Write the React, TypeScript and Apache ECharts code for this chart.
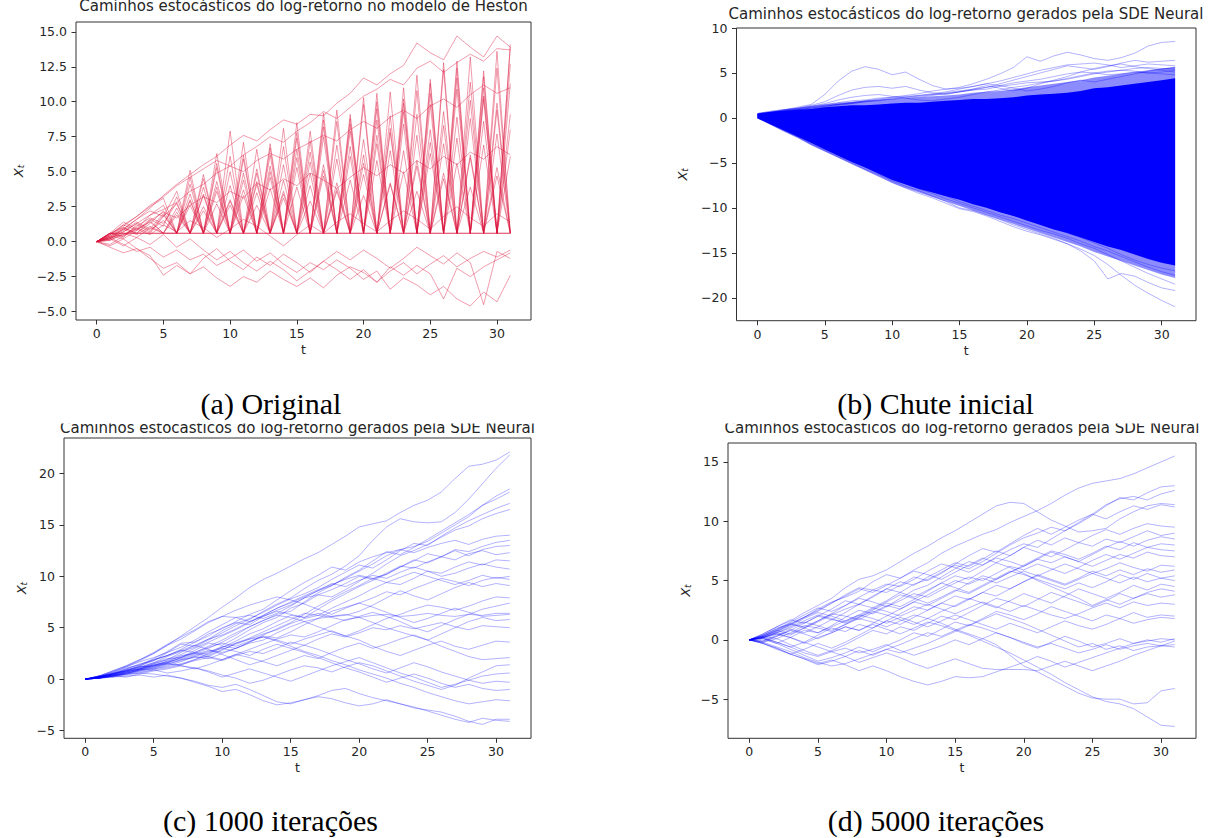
import React, { useEffect, useRef } from "react";
import * as echarts from "echarts";

// ---------- data ----------
const tSteps = [0,1,2,3,4,5,6,7,8,9,10,11,12,13,14,15,16,17,18,19,20,21,22,23,24,25,26,27,28,29,30,31];

const hestonPaths: number[][] = [
  [0,0.5,1.2,0.8,1.6,1.1,3.2,0.6,4.8,0.6,6.1,0.6,5.2,0.6,6.8,0.6,7.9,0.6,8.6,0.6,9.8,0.6,10.7,0.6,11.9,0.6,12.8,0.6,13.2,0.6,12.4,0.6],
  [0,0.3,0.8,1.4,0.9,2.0,0.6,4.1,0.6,5.6,0.6,4.9,0.6,6.7,0.6,7.4,0.6,8.2,0.6,9.1,0.6,8.7,0.6,10.2,0.6,11.6,0.6,10.9,0.6,12.2,0.6,11.3],
  [0,0.6,0.4,1.1,1.7,1.3,2.8,0.6,3.9,0.6,5.0,0.6,4.3,0.6,5.5,0.6,6.4,0.6,5.9,0.6,7.3,0.6,8.1,0.6,7.6,0.6,9.3,0.6,8.8,0.6,9.9,0.6],
  [0,0.2,0.7,1.3,0.8,1.5,0.6,2.9,0.6,3.6,0.6,4.4,0.6,3.8,0.6,5.3,0.6,4.7,0.6,6.1,0.6,7.0,0.6,6.5,0.6,8.0,0.6,7.4,0.6,8.6,0.6,9.1],
  [0,0.6,1.0,0.6,1.3,2.2,0.6,3.4,0.6,2.7,0.6,3.3,0.6,4.6,0.6,3.9,0.6,5.1,0.6,4.4,0.6,5.8,0.6,5.0,0.6,6.3,0.6,5.6,0.6,6.9,0.6,6.1],
  [0,0.4,0.9,1.6,2.2,1.8,3.6,0.6,4.5,0.6,7.9,0.6,6.6,0.6,8.1,0.6,7.2,0.6,9.4,0.6,10.3,0.6,9.0,0.6,10.8,0.6,12.3,0.6,11.4,0.6,13.6,0.6],
  [0,0.1,0.6,0.3,1.0,0.6,2.4,0.6,2.2,0.6,2.9,0.6,3.5,0.6,3.1,0.6,4.0,0.6,3.6,0.6,4.8,0.6,4.2,0.6,5.4,0.6,4.9,0.6,6.0,0.6,5.3,0.6],
  [0,0.6,1.4,0.9,1.9,2.6,0.6,5.1,0.6,6.3,0.6,7.1,0.6,6.2,0.6,7.8,0.6,8.7,0.6,7.9,0.6,9.5,0.6,11.0,0.6,9.8,0.6,11.7,0.6,10.4,0.6,13.9],
  [0,0.3,0.5,0.9,1.4,0.6,1.9,0.6,2.5,0.6,3.0,0.6,2.6,0.6,3.4,0.6,2.9,0.6,3.8,0.6,3.3,0.6,4.1,0.6,3.6,0.6,4.5,0.6,3.9,0.6,4.7,0.6],
  [0,0.2,0.9,0.5,1.1,0.6,2.1,0.6,3.3,0.6,4.0,0.6,4.9,0.6,4.4,0.6,5.7,0.6,6.9,0.6,6.2,0.6,7.8,0.6,9.1,0.6,8.3,0.6,10.1,0.6,9.4,0.6],
  [0,0.4,0.2,0.8,1.5,0.6,0.6,2.6,0.6,3.9,0.6,5.9,0.6,5.4,0.6,6.6,0.6,7.5,0.6,8.4,0.6,10.0,0.6,9.3,0.6,10.6,0.6,12.9,0.6,11.8,0.6,12.7],
  [0,0.6,0.3,1.2,0.7,1.9,0.6,3.0,0.6,4.3,0.6,3.7,0.6,5.0,0.6,6.0,0.6,5.5,0.6,6.8,0.6,7.6,0.6,8.4,0.6,7.1,0.6,8.9,0.6,10.2,0.6,8.0],
  [0,0.1,0.5,1.0,0.6,1.8,2.7,0.6,3.4,0.6,2.6,0.6,4.1,0.6,3.6,0.6,4.9,0.6,4.2,0.6,5.6,0.6,6.5,0.6,5.8,0.6,7.0,0.6,6.2,0.6,7.7,0.6],
  [0,0.5,1.1,1.8,2.5,3.1,0.6,4.6,0.6,5.3,0.6,6.2,0.6,7.0,0.6,8.5,0.6,9.2,0.6,8.8,0.6,10.6,0.6,9.9,0.6,11.3,0.6,12.4,0.6,11.0,0.6,14.1],
  [0,0.3,0.9,1.6,2.4,3.3,4.1,4.8,5.5,6.1,6.9,7.6,7.2,8.0,8.7,8.4,9.1,9.0,9.9,10.6,11.7,11.2,12.0,12.6,14.2,13.5,13.0,14.7,13.9,13.2,14.7,13.9],
  [0,0.5,1.2,1.8,2.6,3.2,4.0,4.6,5.2,5.8,5.4,6.2,6.8,7.5,7.1,7.9,8.5,9.3,8.8,9.6,10.4,10.9,11.6,11.2,12.4,12.9,12.1,12.8,13.4,12.9,13.8,13.7],
  [0,0.2,0.7,1.3,1.9,2.3,2.8,3.6,4.1,4.9,5.4,5.0,5.8,6.3,5.9,6.6,7.1,7.6,7.2,8.0,8.6,8.1,8.9,9.4,8.8,9.7,10.2,9.6,10.5,11.2,10.6,11.0],
  [0,-0.4,-0.8,-0.5,-1.2,-1.9,-1.5,-2.3,-1.8,-2.6,-3.2,-2.5,-2.9,-2.1,-2.7,-3.2,-2.6,-3.3,-2.4,-1.8,-2.2,-2.9,-2.1,-1.5,-2.3,-1.6,-1.0,-1.8,-1.2,-0.7,-1.1,-0.6],
  [0,0.3,-0.2,-0.7,-0.4,-1.1,-0.6,-1.3,-0.9,-1.7,-1.2,-0.6,-1.4,-0.8,-1.6,-2.2,-1.5,-2.0,-1.3,-1.9,-2.7,-2.1,-3.4,-2.6,-3.1,-3.8,-3.2,-4.1,-4.6,-3.6,-4.3,-2.4],
  [0,-0.3,0.2,-0.5,-1.0,-2.4,-1.7,-2.3,-1.2,-0.5,-1.4,-2.0,-1.1,-1.7,-0.9,-1.5,-2.2,-1.4,-0.7,-1.3,-0.6,-1.2,-1.9,-1.2,-0.4,-1.0,-1.6,-0.8,-1.5,-4.5,-0.7,-1.2],
  [0,0.4,1.0,0.6,1.5,2.1,1.7,2.6,3.2,2.8,3.6,3.1,4.2,3.7,4.5,4.0,4.9,4.4,3.8,4.6,5.3,4.7,5.5,4.9,5.8,5.2,6.1,5.5,6.4,5.9,6.8,6.2],
  [0,-0.2,0.4,0.9,0.5,1.2,0.7,1.5,1.0,0.3,0.9,1.6,1.1,0.4,-0.3,0.5,1.2,0.6,1.4,2.0,1.3,0.7,1.5,2.2,1.6,0.9,1.8,2.5,1.7,1.1,2.0,1.4],
  [0,0.2,-0.3,0.3,-0.2,0.5,-0.4,0.2,-0.6,-1.3,-0.7,-1.5,-2.1,-1.4,-2.0,-2.8,-2.1,-1.4,-2.0,-2.7,-2.0,-2.9,-1.8,-2.4,-1.7,-2.3,-4.1,-1.9,-2.5,-1.8,-1.3,-0.8],
];
const hestonFloor = [0,0.6,0.6,0.6,0.6,0.6,0.6,0.6,0.6,0.6,0.6,0.6,0.6,0.6,0.6,0.6,0.6,0.6,0.6,0.6,0.6,0.6,0.6,0.6,0.6,0.6,0.6,0.6,0.6,0.6,0.6,0.6];

// initial guess: dense core (bands) + sparse edge paths
const initInnerUpper = [0.5,0.7,0.8,0.9,1.0,1.2,1.3,1.4,1.4,1.5,1.6,1.7,1.7,1.8,1.9,2.0,2.1,2.1,2.2,2.3,2.5,2.6,2.7,2.8,3.0,3.3,3.4,3.6,3.8,4.0,4.2,4.4];
const initInnerLower = [0,-0.7,-1.4,-2.1,-2.8,-3.5,-4.2,-4.9,-5.5,-6.2,-6.9,-7.4,-7.9,-8.3,-8.7,-9.1,-9.6,-10.0,-10.5,-10.9,-11.4,-11.9,-12.4,-12.8,-13.3,-13.8,-14.3,-14.7,-15.2,-15.7,-16.1,-16.4];
const initOuterUpper = [0.55,0.8,1.0,1.1,1.3,1.5,1.7,1.8,1.9,2.0,2.1,2.2,2.3,2.4,2.5,2.6,2.8,2.9,3.0,3.2,3.4,3.6,3.8,4.0,4.2,4.5,4.7,4.9,5.1,5.3,5.5,5.7];
const initOuterLower = [0,-0.75,-1.5,-2.2,-3.0,-3.7,-4.4,-5.1,-5.8,-6.5,-7.2,-7.8,-8.3,-8.8,-9.3,-9.8,-10.3,-10.8,-11.3,-11.8,-12.3,-12.8,-13.3,-13.8,-14.3,-14.9,-15.4,-15.9,-16.4,-16.9,-17.4,-17.8];
const initPaths: number[][] = [
  [0.3,0.6,0.9,1.2,1.5,2.6,4.1,5.2,5.7,5.4,4.8,5.1,4.3,3.6,3.2,3.3,3.5,3.8,3.6,3.3,3.0,3.2,3.5,3.9,4.2,4.0,4.3,4.6,4.9,5.2,5.4,5.6],
  [0.3,0.6,0.9,1.1,1.4,1.8,2.5,3.1,3.4,3.5,3.3,3.5,3.1,2.8,2.6,2.9,3.2,3.6,3.3,3.0,3.3,3.8,4.2,4.6,5.1,5.5,5.8,6.0,5.7,5.5,5.3,5.1],
  [0.3,0.6,0.8,1.1,1.3,1.5,1.7,1.9,2.0,2.2,2.3,2.5,2.7,3.0,3.2,3.4,3.8,4.3,4.9,5.6,6.8,6.3,6.9,7.3,7.0,6.6,6.4,6.7,7.2,8.0,8.4,8.5],
  [0.3,0.6,0.8,1.0,1.2,1.4,1.5,1.7,1.9,2.0,2.2,2.3,2.5,2.6,2.7,2.9,3.1,3.4,3.8,4.2,4.6,5.0,5.4,5.8,5.6,5.4,5.7,6.1,6.4,6.2,6.3,6.4],
  [0.3,0.5,0.7,0.9,1.1,1.3,1.5,1.7,1.9,2.1,2.3,2.4,2.5,2.7,2.9,3.2,3.5,3.8,4.1,4.5,4.9,5.3,5.6,5.9,6.0,6.1,5.9,5.6,5.8,6.0,5.9,5.8],
  [0.3,0.5,0.7,0.9,1.1,1.3,1.5,1.6,1.8,2.0,2.1,2.3,2.4,2.6,2.8,3.0,3.2,3.4,3.6,3.9,4.1,4.3,4.6,4.9,5.1,5.0,4.8,4.9,5.1,5.0,4.9,4.8],
  [0.3,0.5,0.7,0.9,1.0,1.2,1.4,1.6,1.8,1.9,2.1,2.2,2.3,2.5,2.7,2.9,3.1,3.2,3.5,3.7,3.9,4.0,4.1,4.4,4.7,5.0,5.2,5.3,5.5,5.6,5.5,5.4],
  [0.3,0.5,0.8,1.0,1.3,1.6,2.0,2.3,2.5,2.6,2.4,2.2,2.0,1.9,2.1,2.3,2.6,2.9,3.1,3.4,3.6,3.9,4.1,4.3,4.6,4.9,5.1,5.3,5.2,5.0,5.1,5.3],
  [0,-0.75,-1.5,-2.2,-3.0,-3.7,-4.4,-5.1,-5.8,-6.5,-7.2,-7.8,-8.4,-8.9,-9.5,-10.1,-10.4,-10.9,-11.5,-12.1,-12.6,-13.0,-13.5,-14.0,-14.6,-15.3,-16.3,-17.5,-18.6,-19.5,-20.3,-21.0],
  [0,-0.7,-1.4,-2.1,-2.9,-3.6,-4.3,-5.0,-5.7,-6.3,-7.0,-7.6,-8.1,-8.7,-9.3,-10.0,-10.3,-10.8,-11.3,-11.9,-12.4,-12.9,-13.4,-14.0,-14.8,-15.9,-17.9,-17.3,-17.6,-18.3,-18.9,-19.2],
  [0,-0.7,-1.3,-2.0,-2.7,-3.4,-4.1,-4.8,-5.5,-6.1,-6.8,-7.3,-7.9,-8.4,-9.0,-9.5,-10.0,-10.5,-11.0,-11.5,-12.0,-12.5,-12.9,-13.4,-14.0,-14.5,-15.2,-15.9,-16.6,-17.3,-17.9,-18.5],
  [0,-0.6,-1.3,-1.9,-2.6,-3.3,-4.0,-4.6,-5.3,-5.9,-6.6,-7.2,-7.7,-8.2,-8.7,-9.3,-9.8,-10.3,-10.8,-11.2,-11.7,-12.2,-12.7,-13.2,-13.7,-14.3,-14.8,-15.4,-16.0,-16.6,-17.1,-17.5],
  [0,-0.6,-1.2,-1.8,-2.5,-3.1,-3.8,-4.5,-5.2,-5.8,-6.4,-7.0,-7.6,-8.0,-8.5,-8.9,-9.4,-9.9,-10.4,-10.8,-11.4,-11.8,-12.3,-12.8,-13.3,-13.9,-14.5,-15.2,-15.8,-16.3,-16.7,-17.0],
];

const iter1000Paths: number[][] = [
  [0,0.3,0.7,1.2,1.8,2.5,3.3,4.2,5.1,6.0,7.0,7.9,8.9,9.7,10.3,11.0,11.7,12.3,13.1,13.9,14.8,15.1,15.4,16.2,16.9,17.4,18.2,19.5,20.7,20.9,21.3,22.1],
  [0,0.2,0.5,0.9,1.2,1.6,2.2,2.7,3.1,3.8,4.5,5.2,5.8,6.6,7.3,7.9,8.8,9.6,10.2,11.0,12.0,13.5,14.8,15.6,15.3,15.2,15.3,16.2,17.5,19.0,20.5,21.8],
  [0,0.2,0.6,0.8,1.3,1.9,2.3,2.9,3.6,4.4,4.9,5.6,6.3,6.8,7.7,8.6,9.4,10.1,10.9,10.6,11.4,11.9,12.3,12.6,12.9,13.4,14.2,15.0,15.8,16.9,17.8,18.5],
  [0,0.1,0.4,0.7,1.0,1.4,1.7,2.3,2.5,3.0,3.6,4.3,5.1,5.7,6.3,6.6,7.5,8.4,9.1,9.9,10.6,11.5,12.4,12.1,12.8,13.6,14.4,15.2,16.0,16.9,17.5,18.2],
  [0,0.3,0.5,1.0,1.5,1.8,2.6,3.4,3.2,3.9,4.7,5.4,5.9,6.5,7.2,7.8,8.3,8.9,9.7,10.4,11.1,10.8,11.6,12.5,13.2,13.0,13.9,14.7,15.4,16.0,16.6,17.1],
  [0,0.2,0.4,0.8,1.1,1.6,2.0,2.1,2.8,3.5,3.3,4.0,4.8,5.5,6.0,6.9,7.4,8.2,8.0,8.7,9.5,10.3,11.2,12.0,12.5,13.1,13.8,14.5,14.9,15.6,16.1,16.5],
  [0,0.3,0.6,1.1,1.4,2.0,2.7,3.5,3.6,4.2,5.0,5.5,5.3,6.1,6.7,7.2,7.9,8.6,9.1,9.8,10.5,11.2,12.0,12.6,12.3,12.8,13.2,13.5,13.1,13.6,13.9,14.0],
  [0,0.1,0.5,0.9,1.2,1.3,1.8,2.2,2.6,2.4,3.1,3.7,4.4,4.9,5.6,6.2,6.0,6.8,7.6,8.3,9.0,9.6,10.2,10.9,11.6,11.3,11.9,12.6,12.4,12.9,13.3,13.5],
  [0,0.2,0.3,0.6,0.9,1.2,1.5,1.4,1.9,2.5,3.2,3.0,3.6,4.3,4.9,5.5,6.3,7.1,7.8,8.5,9.1,9.8,10.2,10.9,11.5,12.2,11.9,12.5,12.0,12.6,12.9,13.0],
  [0,0.2,0.7,1.2,1.7,2.1,2.6,3.1,3.8,4.6,5.3,6.0,6.2,5.9,6.4,7.1,7.9,8.2,8.7,9.3,10.0,9.7,10.3,11.0,10.8,11.4,11.9,11.6,12.2,12.5,12.1,12.3],
  [0,0.1,0.3,0.5,0.9,1.1,1.4,1.9,2.1,2.2,2.8,3.5,4.0,4.6,5.2,5.8,6.4,6.2,6.9,7.5,8.1,8.8,9.4,9.2,9.8,10.5,10.3,10.9,11.4,11.1,11.6,11.5],
  [0,0.3,0.8,1.3,1.9,2.5,3.3,3.9,4.7,5.5,6.1,6.0,5.6,6.2,6.9,7.4,8.0,8.6,9.3,9.0,9.6,10.1,9.8,10.4,10.9,10.5,10.0,10.3,10.8,11.2,10.9,10.7],
  [0,0.1,0.4,0.6,0.9,1.0,1.3,1.7,2.2,2.0,2.5,3.0,3.6,4.2,4.0,4.6,5.3,5.9,6.6,7.0,7.4,7.9,8.5,8.2,8.8,9.3,9.8,9.5,9.1,9.6,9.9,9.7],
  [0,0.2,0.5,0.7,1.0,1.5,1.9,2.6,3.3,3.9,4.3,4.9,5.6,6.1,6.6,6.3,6.0,6.4,6.1,6.2,6.6,7.2,7.9,8.6,8.1,7.7,8.3,8.9,9.4,9.0,9.3,9.1],
  [0,0.2,0.5,0.9,1.3,1.8,2.3,2.8,2.6,3.2,3.8,4.5,5.1,5.7,6.2,6.0,5.6,5.1,4.6,4.2,4.7,5.3,5.9,6.3,6.8,7.2,7.0,6.7,7.1,7.6,8.0,7.9],
  [0,0.1,0.2,0.5,0.8,1.0,1.2,1.5,1.9,2.3,2.9,3.4,3.9,4.4,4.8,5.4,5.9,6.2,6.0,5.7,6.1,6.5,6.1,5.6,5.0,4.6,5.2,5.8,6.3,6.8,7.1,7.4],
  [0,0.3,0.5,0.8,1.2,1.3,1.7,2.0,2.4,2.8,2.6,3.0,3.5,3.8,4.5,5.1,5.6,5.9,6.1,6.3,6.0,6.2,6.3,6.1,6.2,6.4,6.2,6.1,6.3,6.2,6.4,6.4],
  [0,0.2,0.4,0.7,1.0,1.2,1.6,2.1,2.5,2.2,1.9,2.4,2.9,3.4,3.9,4.3,4.1,4.6,5.2,5.8,6.0,5.5,5.0,4.6,4.2,3.8,4.4,5.0,5.6,6.0,5.7,5.8],
  [0,0.1,0.3,0.5,0.6,0.9,1.1,1.4,1.8,2.1,1.8,2.3,2.7,2.5,3.0,3.6,3.3,3.9,4.4,4.1,4.5,5.0,4.8,5.2,4.9,5.2,5.5,5.1,4.8,5.2,5.1,5.0],
  [0,0.2,0.3,0.7,1.0,1.4,1.6,2.1,2.6,3.1,3.5,3.2,3.7,4.1,3.8,3.4,3.9,4.3,4.7,4.2,3.8,3.2,2.7,2.3,2.8,3.3,3.7,3.2,2.9,3.3,3.7,3.6],
  [0,0.1,0.4,0.6,0.9,1.3,1.5,1.3,1.0,1.4,1.9,2.4,2.1,1.7,1.3,1.8,2.3,2.0,2.6,3.1,3.5,3.0,3.4,3.9,4.3,3.8,3.2,2.7,2.2,1.9,2.0,2.1],
  [0,0.2,0.4,0.5,0.7,0.9,0.6,0.8,1.1,0.8,0.4,0.1,-0.4,-0.1,0.4,0.9,1.3,1.1,0.7,1.2,1.6,1.3,0.8,0.3,-0.2,-0.6,-1.0,-0.6,0.1,0.7,1.3,1.4],
  [0,0.1,0.3,0.2,0.5,0.8,1.0,1.3,1.1,0.7,0.2,0.6,1.0,0.6,0.2,-0.2,0.3,0.8,1.3,1.7,2.1,1.6,1.1,0.6,0.2,-0.3,-0.8,-0.5,-0.1,-0.4,-0.2,-0.3],
  [0,0.2,0.5,0.8,1.0,1.3,1.6,1.9,2.3,2.7,3.1,3.5,3.9,4.1,3.7,3.2,2.7,2.3,1.8,1.4,0.9,0.5,0.1,-0.4,-0.8,-1.3,-1.7,-2.1,-2.4,-2.2,-2.0,-2.1],
  [0,0.1,0.3,0.4,0.6,0.5,0.3,0.1,-0.2,-0.6,-0.8,-0.5,-1.0,-1.6,-2.2,-2.4,-2.0,-1.6,-1.1,-0.9,-1.4,-1.8,-2.1,-2.4,-2.8,-3.0,-3.2,-3.6,-4.1,-4.4,-3.9,-3.9],
  [0,0.1,0.2,0.3,0.4,0.2,0.4,0.1,-0.3,-0.7,-1.2,-1.0,-1.5,-2.1,-2.5,-2.3,-2.0,-1.7,-1.9,-2.3,-2.6,-2.4,-2.0,-2.4,-2.7,-3.1,-3.5,-3.9,-4.2,-3.8,-4.0,-4.1],
  [0,0.3,0.8,1.3,1.9,2.6,3.4,4.1,4.8,5.6,6.1,6.7,7.2,7.6,8.0,7.7,7.3,6.8,6.3,6.9,7.4,7.0,6.5,6.0,5.5,5.9,6.4,6.9,6.5,6.1,6.2,6.3],
  [0,0.2,0.6,1.0,1.4,1.9,2.3,2.8,3.3,2.9,2.4,1.9,1.4,1.8,2.3,2.8,3.3,2.9,2.4,1.9,1.5,1.0,0.6,1.1,1.6,1.2,0.7,0.3,-0.1,0.3,0.5,0.6],
  [0,0.1,0.3,0.6,0.8,1.1,1.5,1.8,2.2,2.6,3.0,2.7,2.3,2.9,3.4,3.0,2.6,2.1,1.6,1.1,0.7,0.2,-0.3,0.1,0.5,0.1,-0.4,-0.8,-0.5,-0.9,-1.1,-1.0],
  [0,0.2,0.5,0.8,1.1,1.5,1.9,2.4,3.0,3.6,4.2,4.8,5.5,6.2,6.9,7.5,8.1,8.7,9.2,9.7,10.1,9.8,9.4,9.9,10.4,10.0,9.6,9.2,9.6,10.1,9.8,10.0],
];

const iter5000Paths: number[][] = [
  [0,0.3,0.8,1.4,1.9,2.6,3.2,3.6,4.1,4.9,5.5,5.2,5.9,6.5,7.3,7.9,8.4,8.9,9.3,9.9,10.4,10.9,11.5,12.2,12.8,13.2,13.4,13.6,14.0,14.5,15.0,15.5],
  [0,0.5,1.1,1.6,2.3,2.9,3.5,4.4,5.1,5.4,5.9,6.6,7.3,7.9,8.6,9.2,9.9,10.6,11.3,11.6,11.5,10.8,10.1,9.6,9.1,9.2,9.4,10.2,10.8,11.3,11.5,11.4],
  [0,0.2,0.6,0.4,1.0,1.5,2.1,2.6,3.0,2.7,3.3,4.0,4.7,5.1,5.7,6.3,6.0,6.6,7.3,8.0,8.6,9.0,9.5,9.2,9.8,10.5,11.3,12.0,11.8,12.4,12.9,13.0],
  [0,0.1,-0.3,0.2,0.8,0.6,1.2,1.9,2.5,2.2,2.8,3.5,4.2,4.6,5.3,6.0,6.6,6.3,7.0,7.6,8.1,7.8,8.5,9.2,9.9,10.6,11.4,11.9,12.1,11.8,12.3,12.6],
  [0,0.4,1.0,1.3,1.1,1.6,2.2,2.9,3.6,4.2,4.0,4.6,5.3,5.0,5.6,6.4,7.1,7.7,7.4,8.1,8.8,9.4,8.9,9.5,10.1,10.6,10.2,10.8,11.3,11.0,11.4,11.2],
  [0,-0.2,0.3,0.8,1.4,2.0,1.7,2.3,3.0,3.6,4.3,4.9,4.6,5.3,5.9,6.5,6.2,6.8,7.5,7.1,7.8,8.4,8.0,8.6,8.2,8.8,9.3,8.9,9.4,9.8,9.6,9.5],
  [0,0.3,0.1,0.6,1.2,1.0,0.7,1.3,1.9,2.5,3.1,2.8,3.4,4.1,4.8,5.4,5.1,5.8,6.5,7.1,7.8,7.4,7.0,7.6,8.2,7.9,8.5,8.2,8.7,9.2,8.8,9.0],
  [0,0.2,0.7,1.3,1.9,2.4,3.1,3.8,4.4,4.2,4.7,4.5,5.1,5.8,6.4,6.1,5.7,6.3,6.9,6.6,6.2,6.8,7.4,7.0,6.6,7.2,7.8,8.3,7.9,8.4,8.7,8.5],
  [0,0.1,0.5,0.2,-0.3,0.2,0.6,1.1,0.8,1.4,2.0,2.6,3.2,2.9,3.5,4.1,4.8,5.4,5.1,5.7,6.3,6.9,7.5,7.2,6.8,7.3,7.9,7.6,8.2,7.8,8.1,8.0],
  [0,0.4,0.9,1.5,2.1,2.7,2.4,2.9,3.5,3.2,2.8,3.3,3.9,3.6,4.2,4.8,5.3,5.0,5.6,6.2,5.9,6.4,6.0,5.6,6.1,6.7,7.2,6.8,7.3,7.8,7.6,7.5],
  [0,-0.1,0.4,0.9,0.6,1.1,1.7,1.5,2.0,2.6,3.2,3.8,3.5,3.1,3.6,4.2,3.9,4.5,5.1,5.7,6.2,6.8,6.5,7.0,6.6,6.2,6.7,7.2,6.9,7.4,7.1,7.0],
  [0,0.3,0.8,0.5,1.0,1.6,2.2,2.0,1.7,2.3,2.9,2.6,3.2,3.8,4.4,5.0,4.7,5.2,4.8,5.3,5.8,5.4,5.9,6.4,6.0,5.6,6.0,6.5,6.1,5.8,6.3,6.2],
  [0,0.2,-0.2,-0.6,-0.2,0.4,1.0,0.7,1.3,1.0,1.6,2.2,2.8,2.5,3.1,3.7,3.4,4.0,4.6,4.3,4.9,5.5,5.1,4.7,5.2,5.8,5.4,5.9,5.5,6.0,5.7,5.9],
  [0,0.5,1.1,1.7,1.4,2.0,2.6,3.3,3.0,3.7,4.3,4.0,3.6,4.2,4.8,4.4,4.0,4.6,5.2,5.8,5.5,5.1,4.7,4.3,4.8,4.4,4.9,5.5,5.1,5.6,5.2,5.4],
  [0,-0.3,-0.8,-1.2,-0.8,-0.3,-0.7,-0.2,0.4,1.0,1.6,1.3,1.9,2.5,3.1,2.8,3.4,4.0,3.7,4.3,4.9,5.4,5.0,4.6,5.1,5.6,5.2,4.8,5.3,4.9,5.2,5.0],
  [0,0.2,0.6,1.0,1.5,1.2,0.8,1.3,1.8,1.5,1.1,1.6,2.1,1.8,2.4,2.9,3.5,3.1,2.7,3.3,3.9,3.5,3.1,3.7,4.3,3.9,3.5,4.0,4.6,4.2,4.7,4.5],
  [0,-0.2,0.1,-0.4,-0.9,-1.3,-0.9,-0.4,0.2,0.8,0.5,1.1,0.8,1.4,2.0,1.7,2.3,2.9,3.5,3.2,2.8,3.4,4.0,3.6,3.2,2.8,3.3,3.9,3.5,4.0,4.3,4.1],
  [0,0.3,0.7,1.2,1.8,2.3,2.0,1.6,2.1,2.7,2.4,2.0,2.5,3.0,2.6,2.2,2.7,3.2,2.8,2.4,2.9,2.5,2.1,1.8,2.2,2.7,3.1,2.7,3.2,2.9,3.1,3.0],
  [0,0.1,-0.3,-0.8,-1.3,-1.8,-1.5,-1.1,-0.6,-1.0,-0.5,0.0,0.6,0.3,0.9,1.5,1.2,1.8,2.4,2.1,1.7,2.2,2.8,2.4,2.0,1.6,2.1,1.8,2.3,1.9,2.1,2.0],
  [0,0.4,0.9,1.4,1.0,0.6,1.1,1.6,2.1,1.8,1.4,1.9,1.5,1.1,1.6,2.1,1.7,1.3,0.9,1.4,1.0,0.6,1.1,1.6,1.2,0.9,1.3,1.8,1.4,1.7,1.9,1.8],
  [0,-0.3,-0.7,-1.2,-1.6,-2.1,-1.8,-1.4,-0.9,-1.3,-0.8,-0.4,0.1,0.6,0.3,0.8,1.3,1.0,0.6,0.2,-0.3,-0.7,-0.2,0.3,-0.1,-0.6,-0.3,0.1,-0.3,-0.1,0.1,0.0],
  [0,0.2,0.5,0.2,-0.2,-0.6,-1.0,-0.7,-1.1,-0.8,-0.4,-0.9,-1.3,-0.9,-0.5,0.0,-0.4,0.1,0.6,0.2,-0.2,-0.6,-0.3,-0.7,-1.1,-0.8,-0.4,-0.8,-0.5,-0.3,-0.5,-0.4],
  [0,-0.2,-0.6,-1.0,-1.5,-1.9,-2.2,-2.0,-1.6,-1.2,-0.8,-1.1,-0.7,-0.3,0.2,0.7,1.2,1.7,2.2,1.8,1.4,0.9,0.4,-0.1,-0.6,-0.3,-0.8,-0.5,-0.9,-0.6,-0.5,-0.6],
  [0,0.2,0.6,1.1,1.6,2.1,1.8,1.4,1.9,2.4,2.1,1.7,1.3,1.8,1.4,0.9,0.5,0.1,-0.4,-1.3,-2.2,-2.7,-3.3,-3.9,-4.5,-4.9,-5.0,-5.0,-5.4,-5.3,-4.3,-4.1],
  [0,-0.1,0.3,0.8,0.5,0.1,0.6,1.1,0.8,1.3,0.9,0.5,1.0,1.5,1.2,0.8,0.4,-0.1,-0.6,-1.1,-1.7,-2.3,-2.9,-3.6,-4.2,-4.8,-5.2,-5.4,-5.8,-6.5,-7.2,-7.3],
  [0,-0.3,-0.7,-1.2,-1.6,-2.0,-1.7,-2.1,-2.6,-2.2,-2.6,-3.1,-3.5,-3.8,-3.5,-3.1,-3.2,-3.1,-2.7,-2.3,-1.9,-1.4,-1.8,-2.3,-1.9,-1.5,-1.1,-0.7,-0.3,0.0,-0.2,0.1],
  [0,0.2,-0.2,-0.6,-1.1,-1.4,-1.0,-1.4,-1.9,-1.5,-1.1,-1.5,-2.0,-2.4,-2.0,-1.6,-2.0,-2.4,-2.5,-2.5,-2.5,-2.6,-2.2,-1.8,-2.2,-2.6,-2.2,-1.8,-1.3,-0.9,-0.5,-0.1],
  [0,0.3,0.8,1.3,1.9,2.5,3.1,3.7,4.3,4.0,4.6,5.2,5.8,5.5,5.1,5.7,6.3,6.9,6.5,6.1,5.6,5.0,4.5,4.0,3.5,2.9,3.4,3.0,3.5,3.9,3.6,3.8],
];

const xTicks = [0, 5, 10, 15, 20, 25, 30];
const yTicksA = [-5, -2.5, 0, 2.5, 5, 7.5, 10, 12.5, 15];
const yTicksB = [-20, -15, -10, -5, 0, 5, 10];
const yTicksC = [-5, 0, 5, 10, 15, 20];
const yTicksD = [-5, 0, 5, 10, 15];

const titleHeston = "Caminhos estocásticos do log-retorno no modelo de Heston";
const titleNeural = "Caminhos estocásticos do log-retorno gerados pela SDE Neural";
const captions = ["(a) Original", "(b) Chute inicial", "(c) 1000 iterações", "(d) 5000 iterações"];

// ---------- layout ----------
const grids = [
  { left: 76, top: 22, width: 455, height: 298 },
  { left: 736.5, top: 28, width: 459.5, height: 292.7 },
  { left: 64, top: 438, width: 467, height: 300.3 },
  { left: 728, top: 443, width: 468, height: 295.3 },
];
const yRanges = [
  [-5.6, 15.7],
  [-22.55, 10],
  [-5.75, 23.45],
  [-8.3, 16.6],
];
const yTickSets = [yTicksA, yTicksB, yTicksC, yTicksD];
const yDecimals = [1, 0, 0, 0];
const yNameGaps = [51, 47, 36, 36];

const TXT = "#262626";
const FONT = "DejaVu Sans";

const fmt = (dec: number) => (v: number) => {
  const s = Math.abs(v).toFixed(dec);
  return v < 0 ? "\u2212" + s : s;
};

const toData = (arr: number[]) => arr.map((v, i) => [tSteps[i], v]);

function App() {
  const ref = useRef<HTMLDivElement>(null);
  useEffect(() => {
    if (!ref.current) return;
    const chart = echarts.init(ref.current, null, { renderer: "svg" });

    const xAxes = grids.map((_, gi) => ({
      gridIndex: gi,
      type: "value",
      min: -1.55,
      max: 32.55,
      axisLine: { show: false, onZero: false },
      splitLine: { show: false },
      axisTick: { show: true, length: 4.5, lineStyle: { color: "#333", width: 1 }, customValues: xTicks },
      axisLabel: { customValues: xTicks, fontSize: 12.5, color: TXT, fontFamily: FONT, margin: 7, formatter: fmt(0) },
      name: "t",
      nameLocation: "middle",
      nameGap: 23,
      nameTextStyle: { fontSize: 12.5, color: TXT, fontFamily: FONT },
    }));

    const yAxes = grids.map((_, gi) => ({
      gridIndex: gi,
      type: "value",
      min: yRanges[gi][0],
      max: yRanges[gi][1],
      axisLine: { show: false, onZero: false },
      splitLine: { show: false },
      axisTick: { show: true, length: 4.5, lineStyle: { color: "#333", width: 1 }, customValues: yTickSets[gi] },
      axisLabel: { customValues: yTickSets[gi], fontSize: 12.5, color: TXT, fontFamily: FONT, margin: 9, formatter: fmt(yDecimals[gi]) },
      name: "{x|X}{s|t}",
      nameLocation: "middle",
      nameRotate: 90,
      nameGap: yNameGaps[gi],
      nameTextStyle: {
        color: TXT,
        rich: {
          x: { fontSize: 13, fontStyle: "italic", fontFamily: FONT, color: TXT },
          s: { fontSize: 9, fontStyle: "italic", fontFamily: FONT, color: TXT, padding: [5, 0, 0, 0] },
        },
      },
    }));

    const pathSeries = (paths: number[][], gi: number, color: string, opacity: number) =>
      paths.map((p) => ({
        type: "line",
        xAxisIndex: gi,
        yAxisIndex: gi,
        data: toData(p),
        symbol: "none",
        silent: true,
        emphasis: { disabled: true },
        lineStyle: { color, width: 1, opacity },
        z: 3,
      }));

    // dense core of the initial-guess fan, drawn as a polygon through the axis scales
    const band = (upper: number[], lower: number[], fill: string) => ({
      type: "custom",
      xAxisIndex: 1,
      yAxisIndex: 1,
      silent: true,
      z: 2,
      data: [[0, 0]],
      renderItem: (_params: any, api: any) => {
        const top = upper.map((v, i) => api.coord([tSteps[i], v]));
        const bottom = lower.map((v, i) => api.coord([tSteps[i], v])).reverse();
        return { type: "polygon", shape: { points: top.concat(bottom) }, style: { fill } };
      },
    });

    const series = [
      ...pathSeries(hestonPaths, 0, "#dc143c", 0.42),
      ...pathSeries([hestonFloor], 0, "#dc143c", 0.85),
      band(initOuterUpper, initOuterLower, "rgba(0,0,255,0.45)"),
      band(initInnerUpper, initInnerLower, "#0000ff"),
      ...pathSeries(initPaths, 1, "#0000ff", 0.3),
      ...pathSeries(iter1000Paths, 2, "#0000ff", 0.3),
      ...pathSeries(iter5000Paths, 3, "#0000ff", 0.3),
    ];

    const titleFont = `15px "${FONT}"`;
    const capFont = `30px "Liberation Serif"`;
    const graphic = [
      { type: "text", x: 303.5, y: 6, z: 5, style: { text: titleHeston, font: titleFont, fill: TXT, align: "center", verticalAlign: "middle" } },
      { type: "text", x: 966, y: 14, z: 5, style: { text: titleNeural, font: titleFont, fill: TXT, align: "center", verticalAlign: "middle" } },
      { type: "text", x: 297.5, y: 427.5, z: 5, style: { text: titleNeural, font: titleFont, fill: TXT, align: "center", verticalAlign: "middle" } },
      { type: "text", x: 962, y: 427.5, z: 5, style: { text: titleNeural, font: titleFont, fill: TXT, align: "center", verticalAlign: "middle" } },
      { type: "rect", z: 10, shape: { x: 0, y: 372, width: 1216, height: 51.5 }, style: { fill: "#ffffff" } },
      { type: "text", x: 271, y: 403, z: 11, style: { text: captions[0], font: capFont, fill: "#000", align: "center", verticalAlign: "middle" } },
      { type: "text", x: 935.5, y: 403, z: 11, style: { text: captions[1], font: capFont, fill: "#000", align: "center", verticalAlign: "middle" } },
      { type: "text", x: 270.5, y: 820, z: 11, style: { text: captions[2], font: capFont, fill: "#000", align: "center", verticalAlign: "middle" } },
      { type: "text", x: 936, y: 820, z: 11, style: { text: captions[3], font: capFont, fill: "#000", align: "center", verticalAlign: "middle" } },
    ];

    chart.setOption({
      animation: false,
      backgroundColor: "#ffffff",
      grid: grids.map((g) => ({ ...g, show: true, borderColor: "#333", borderWidth: 1, backgroundColor: "transparent", containLabel: false })),
      xAxis: xAxes,
      yAxis: yAxes,
      series,
      graphic,
    });
    return () => chart.dispose();
  }, []);
  return <div ref={ref} style={{ position: "fixed", left: 0, top: 0, width: 1216, height: 838, background: "#fff" }} />;
}

export default App;
